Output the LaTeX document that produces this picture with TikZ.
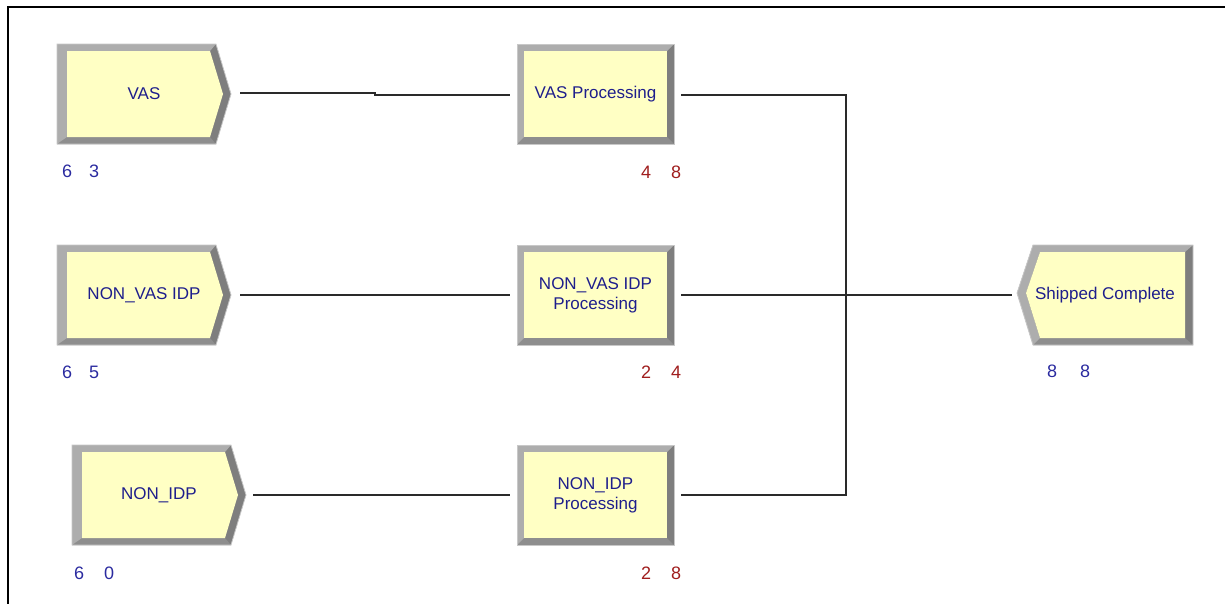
\documentclass[tikz,border=0pt]{standalone}
\usepackage{fontspec}
\setmainfont{Liberation Sans}
\definecolor{modfill}{HTML}{FFFFC4}
\definecolor{bevlight}{HTML}{ADADAD}
\definecolor{bevdark}{HTML}{7E7E7E}
\definecolor{bevmid}{HTML}{8E8E8E}
\definecolor{bevedge}{HTML}{C8C8C8}
\definecolor{txtblue}{HTML}{1E1E8C}
\definecolor{cntblue}{HTML}{2B2BA0}
\definecolor{cntred}{HTML}{A01E1E}
\definecolor{linegray}{HTML}{2A2A2A}
\tikzset{
  modtext/.style={inner sep=0pt, text=txtblue, font=\fontsize{17}{20}\selectfont, align=center},
  cnt/.style={inner sep=0pt, font=\fontsize{18}{20}\selectfont, anchor=west},
  conn/.style={draw=linegray, line width=1.6pt},
  edge line/.style={draw=bevedge, line width=0.8pt},
}
\newcommand\CreateMod[4]{%
  \begin{scope}[shift={(#2,#3)}]
    \fill[bevdark] (0,0)--(159,0)--(174,50)--(159,100)--(0,100)--cycle;
    \fill[bevmid] (0,100)--(159,100)--(153,93)--(10,93)--cycle;
    \fill[bevlight] (0,0)--(159,0)--(153,7)--(10,7)--(10,93)--(0,100)--cycle;
    \fill[modfill] (10,7)--(153,7)--(166,50)--(153,93)--(10,93)--cycle;
    \draw[edge line] (0,0)--(159,0)--(174,50)--(159,100)--(0,100)--cycle;
  \end{scope}
  \node[modtext, minimum width=174pt, minimum height=100pt] (#1) at ({#2+87},{#3+50}) {#4};
}
\newcommand\ProcMod[4]{%
  \begin{scope}[shift={(#2,#3)}]
    \fill[bevdark] (0,0) rectangle (157,100);
    \fill[bevmid] (0,100)--(157,100)--(150,93)--(7,93)--cycle;
    \fill[bevlight] (0,0)--(157,0)--(150,7)--(7,7)--(7,93)--(0,100)--cycle;
    \fill[modfill] (7,7) rectangle (150,93);
    \draw[edge line] (0,0) rectangle (157,100);
  \end{scope}
  \node[modtext, minimum width=157pt, minimum height=100pt] (#1) at ({#2+78.5},{#3+50}) {#4};
}
\newcommand\DispMod[4]{%
  \begin{scope}[shift={(#2,#3)}]
    \fill[bevdark] (16,0)--(176,0)--(176,100)--(16,100)--(0,48)--cycle;
    \fill[bevmid] (16,100)--(176,100)--(168,93)--(23,93)--cycle;
    \fill[bevlight] (16,0)--(176,0)--(168,7)--(23,7)--(9,48)--(23,93)--(16,100)--(0,48)--cycle;
    \fill[modfill] (23,7)--(168,7)--(168,93)--(23,93)--(9,48)--cycle;
    \draw[edge line] (16,0)--(176,0)--(176,100)--(16,100)--(0,48)--cycle;
  \end{scope}
  \node[modtext, minimum width=176pt, minimum height=100pt] (#1) at ({#2+88},{#3+50}) {#4};
}
\begin{document}
\begin{tikzpicture}[x=1pt, y=-1pt]
  \useasboundingbox (0,0) rectangle (1225,603);
  \fill[white] (0,0) rectangle (1225,603);
  \draw[black, line width=2.2pt] (8,604) -- (8,7) -- (1226,7);

  % modules
  \CreateMod{cvas}{57}{44}{VAS}
  \CreateMod{cnvi}{57}{245}{NON\_VAS IDP}
  \CreateMod{cnon}{72}{445}{NON\_IDP}
  \ProcMod{pvas}{517}{44}{VAS Processing}
  \ProcMod{pnvi}{517}{245}{NON\_VAS IDP\\Processing}
  \ProcMod{pnon}{517}{445}{NON\_IDP\\Processing}
  \DispMod{dship}{1017}{245}{Shipped Complete}

  % counters
  \node[cnt, text=cntblue] (cvas-n) at (62,171) {6\hspace{17pt}3};
  \node[cnt, text=cntblue] (cnvi-n) at (62,372) {6\hspace{17pt}5};
  \node[cnt, text=cntblue] (cnon-n) at (74,573) {6\hspace{20pt}0};
  \node[cnt, text=cntred] (pvas-n) at (641,172) {4\hspace{20pt}8};
  \node[cnt, text=cntred] (pnvi-n) at (641,372) {2\hspace{20pt}4};
  \node[cnt, text=cntred] (pnon-n) at (641,573) {2\hspace{20pt}8};
  \node[cnt, text=cntblue] (dship-n) at (1047,371) {8\hspace{23pt}8};

  % connectors
  \coordinate (merge) at (846,295);
  \draw[conn] ([xshift=9pt,yshift=1pt]cvas.east) -- ++(135,0) -- ++(0,2) -- ([xshift=-7pt,yshift=-1pt]pvas.west);
  \draw[conn] ([xshift=9pt]cnvi.east) -- ([xshift=-7pt]pnvi.west);
  \draw[conn] ([xshift=7pt]cnon.east) -- ([xshift=-7pt]pnon.west);
  \draw[conn] ([xshift=7pt,yshift=-1pt]pvas.east) -| (merge);
  \draw[conn] ([xshift=7pt]pnon.east) -| (merge);
  \draw[conn] ([xshift=7pt]pnvi.east) -- (merge) -- ([xshift=-5pt]dship.west);
\end{tikzpicture}
\end{document}
